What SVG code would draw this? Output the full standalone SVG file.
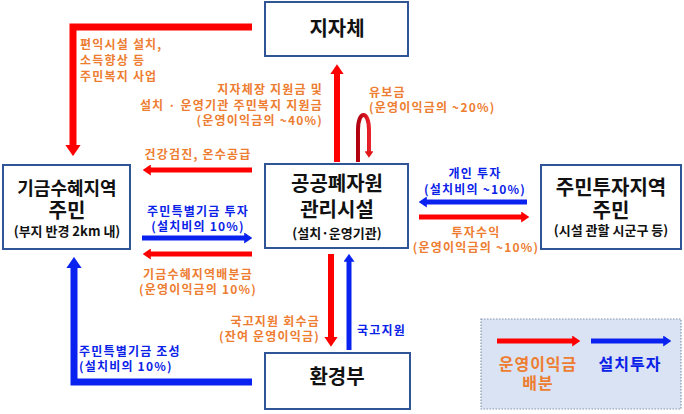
<svg xmlns="http://www.w3.org/2000/svg" width="684" height="414" viewBox="0 0 684 414">
<style>
text{font-family:"Noto Sans CJK KR","Noto Sans",sans-serif;font-weight:bold}
.box{fill:#fff;stroke:#2f5597;stroke-width:2}
.t{font-size:20px;fill:#111;text-anchor:middle}
.s{font-size:13px;fill:#111;text-anchor:middle}
.o{font-size:12px;fill:#ed7d31;letter-spacing:1.2px}
.b{font-size:12px;fill:#0a22e8;letter-spacing:1.2px}
.m{text-anchor:middle}
.e{text-anchor:end}
.r{fill:none;stroke:#ff0000;marker-end:url(#hr)}
.bl{fill:none;stroke:#0a22f0;marker-end:url(#hb)}
.lg{font-size:16px;letter-spacing:1px;text-anchor:middle}
</style>
<defs>
<marker id="hr" viewBox="0 0 10 10" markerWidth="1.6" markerHeight="2.2" refX="1" refY="5" orient="auto" preserveAspectRatio="none"><path d="M0,0 L10,5 L0,10 z" fill="#ff0000"/></marker>
<marker id="hb" viewBox="0 0 10 10" markerWidth="1.6" markerHeight="2.2" refX="1" refY="5" orient="auto" preserveAspectRatio="none"><path d="M0,0 L10,5 L0,10 z" fill="#0a22f0"/></marker>
<marker id="hd" viewBox="0 0 10 10" markerWidth="1.6" markerHeight="2.2" refX="1" refY="5" orient="auto" preserveAspectRatio="none"><path d="M0,0 L10,5 L0,10 z" fill="#e01818"/></marker>
<linearGradient id="lg" x1="0" y1="0" x2="1" y2="0"><stop offset="0" stop-color="#b00010"/><stop offset="1" stop-color="#e8202a"/></linearGradient>
</defs>

<g id="connectors">
<path class="r" d="M252,27 H73 V146" stroke-width="7"/>
<path class="r" d="M337,162 V73" stroke-width="6"/>
<path d="M358,162 V130 C358,110 369,110 369,130 V152" fill="none" stroke="url(#lg)" stroke-width="4" marker-end="url(#hd)"/>
<path class="r" d="M252,170 H150" stroke-width="5"/>
<path class="r" d="M252,254 H150" stroke-width="5"/>
<path class="r" d="M419,217 H522" stroke-width="5"/>
<path class="r" d="M331,254 V338" stroke-width="6"/>
<path class="bl" d="M142,238 H245" stroke-width="5"/>
<path class="bl" d="M527,202 H426" stroke-width="5"/>
<path class="bl" d="M349,350 V261" stroke-width="5"/>
<path class="bl" d="M252,382 H74 V267" stroke-width="7"/>
</g>

<g id="labels">
<text class="o" x="80" y="49">편익시설 설치,</text>
<text class="o" x="80" y="65">소득향상 등</text>
<text class="o" x="80" y="81">주민복지 사업</text>
<text class="o e" x="323" y="94">지자체장 지원금 및</text>
<text class="o e" x="323" y="110">설치 · 운영기관 주민복지 지원금</text>
<text class="o e" x="323" y="125">(운영이익금의 ~40%)</text>
<text class="o" x="369" y="97">유보금</text>
<text class="o" x="369" y="112">(운영이익금의 ~20%)</text>
<text class="o m" x="198" y="159">건강검진, 온수공급</text>
<text class="b m" x="198" y="216">주민특별기금 투자</text>
<text class="b m" x="198" y="231">(설치비의 10%)</text>
<text class="o m" x="198" y="279">기금수혜지역배분금</text>
<text class="o m" x="198" y="294">(운영이익금의 10%)</text>
<text class="o e" x="320" y="326">국고지원 회수금</text>
<text class="o e" x="320" y="341">(잔여 운영이익금)</text>
<text class="b" x="79" y="356">주민특별기금 조성</text>
<text class="b" x="79" y="371">(설치비의 10%)</text>
<text class="b" x="357" y="335">국고지원</text>
<text class="b m" x="475" y="178">개인 투자</text>
<text class="b m" x="475" y="194">(설치비의 ~10%)</text>
<text class="o m" x="476" y="237">투자수익</text>
<text class="o m" x="476" y="252">(운영이익금의 ~10%)</text>
</g>

<g id="node-jijache">
<rect class="box" x="265" y="2" width="143" height="54"/>
<text class="t" x="337" y="36">지자체</text>
</g>

<g id="node-facility">
<rect class="box" x="265" y="164" width="143" height="84"/>
<text class="t" x="337" y="191">공공폐자원</text>
<text class="t" x="337" y="217">관리시설</text>
<text class="s" x="337" y="238">(설치·운영기관)</text>
</g>

<g id="node-fund-residents">
<rect class="box" x="3" y="165" width="127" height="84"/>
<text class="t" x="67" y="195" style="font-size:18px">기금수혜지역</text>
<text class="t" x="67" y="218">주민</text>
<text class="s" x="67" y="236">(부지 반경 2km 내)</text>
</g>

<g id="node-invest-residents">
<rect class="box" x="541" y="165" width="140" height="84"/>
<text class="t" x="611" y="195">주민투자지역</text>
<text class="t" x="611" y="218">주민</text>
<text class="s" x="611" y="235">(시설 관할 시군구 등)</text>
</g>

<g id="node-ministry">
<rect class="box" x="265" y="353" width="145" height="56"/>
<text class="t" x="337" y="384">환경부</text>
</g>

<g id="legend">
<rect x="481" y="319" width="200" height="90" fill="#dae3f3" stroke="#8497b0" stroke-width="1.2" stroke-dasharray="1.5,1.5"/>
<path class="r" d="M497,341 H573" stroke-width="5"/>
<path class="bl" d="M591,341 H664" stroke-width="5"/>
<text class="lg" x="538" y="370" style="fill:#ed7d31">운영이익금</text>
<text class="lg" x="538" y="389" style="fill:#ed7d31">배분</text>
<text class="lg" x="630" y="370" style="fill:#0a22e8">설치투자</text>
</g>
</svg>
